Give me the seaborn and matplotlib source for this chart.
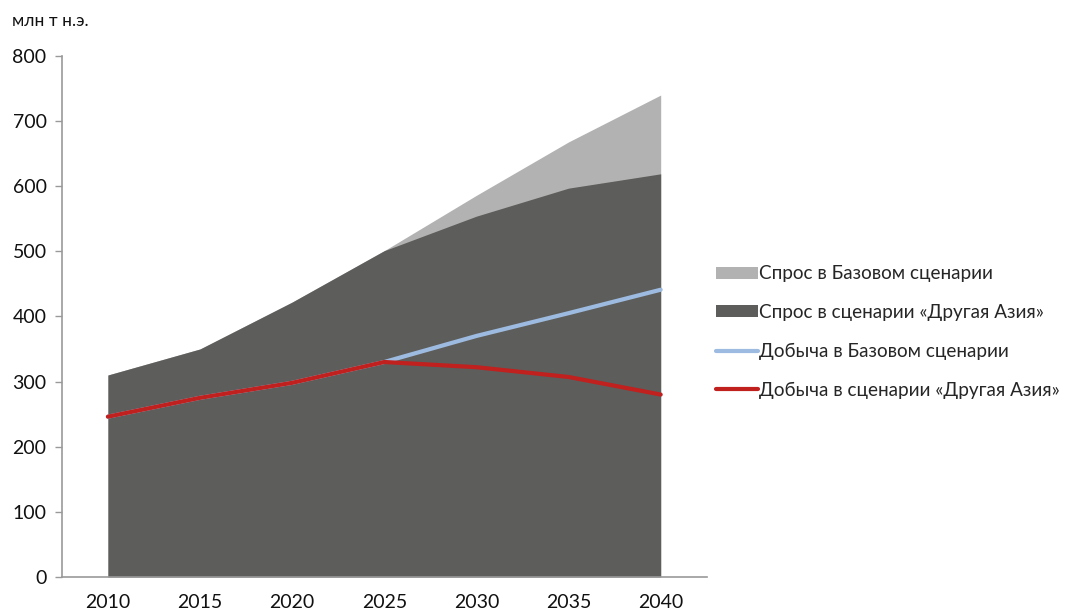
import pandas as pd
import numpy as np
import matplotlib.pyplot as plt
import seaborn as sns
from matplotlib.patches import Patch
from matplotlib.lines import Line2D

years = ["2010", "2015", "2020", "2025", "2030", "2035", "2040"]
demand_base = [310, 350, 422, 501, 586, 668, 740]
demand_asia = [310, 350, 422, 501, 554, 597, 619]
prod_base = [246, 275, 298, 330, 370, 405, 441]
prod_asia = [246, 275, 298, 330, 322, 307, 280]

labels = ["Спрос в Базовом сценарии",
          "Спрос в сценарии «Другая Азия»",
          "Добыча в Базовом сценарии",
          "Добыча в сценарии «Другая Азия»"]

sns.set_style("white")
plt.rcParams['font.family'] = ['Lato', 'DejaVu Sans']

df = pd.DataFrame({"pos": np.arange(len(years)),
                   "prod_base": prod_base, "prod_asia": prod_asia})

fig = plt.figure(figsize=(10.66, 6.15), dpi=100)
ax = fig.add_axes([0.058, 0.062, 0.605, 0.847])

#demand areas
ax.fill_between(df["pos"], demand_base, color="#b2b2b2", lw=0)
ax.fill_between(df["pos"], demand_asia, color="#5d5d5b", lw=0)

#production lines
sns.lineplot(data=df, x="pos", y="prod_base", ax=ax, color="#9dbbe0", lw=3)
sns.lineplot(data=df, x="pos", y="prod_asia", ax=ax, color="#c0201e", lw=3)

ax.set_xlim(-0.5, 6.5)
ax.set_ylim(0, 800)
ax.set_xticks(df["pos"])
ax.set_xticklabels(years)
ax.set_yticks(range(0, 801, 100))
ax.set_xlabel("")
ax.set_ylabel("")
ax.tick_params(axis="both", labelsize=14, colors="#111111")
ax.tick_params(axis="y", length=5, color="#999999", width=1, pad=6, left=True)
ax.tick_params(axis="x", length=0, pad=12)
for s in ["top", "right"]:
    ax.spines[s].set_visible(False)
for s in ["left", "bottom"]:
    ax.spines[s].set_color("#999999")
    ax.spines[s].set_linewidth(1.2)

fig.text(0.011, 0.958, "млн т н.э.", fontsize=12.5, color="#111111")

handles = [Patch(facecolor="#b2b2b2", edgecolor="none"),
           Patch(facecolor="#5d5d5b", edgecolor="none"),
           Line2D([], [], color="#9dbbe0", lw=3),
           Line2D([], [], color="#c0201e", lw=3)]
fig.legend(handles, labels, loc="center left", bbox_to_anchor=(0.665, 0.46),
           frameon=False, fontsize=13.6, handlelength=2.2, handleheight=0.6,
           handletextpad=0.05, labelspacing=1.15, borderaxespad=0)

plt.savefig("out.png", dpi=100)
